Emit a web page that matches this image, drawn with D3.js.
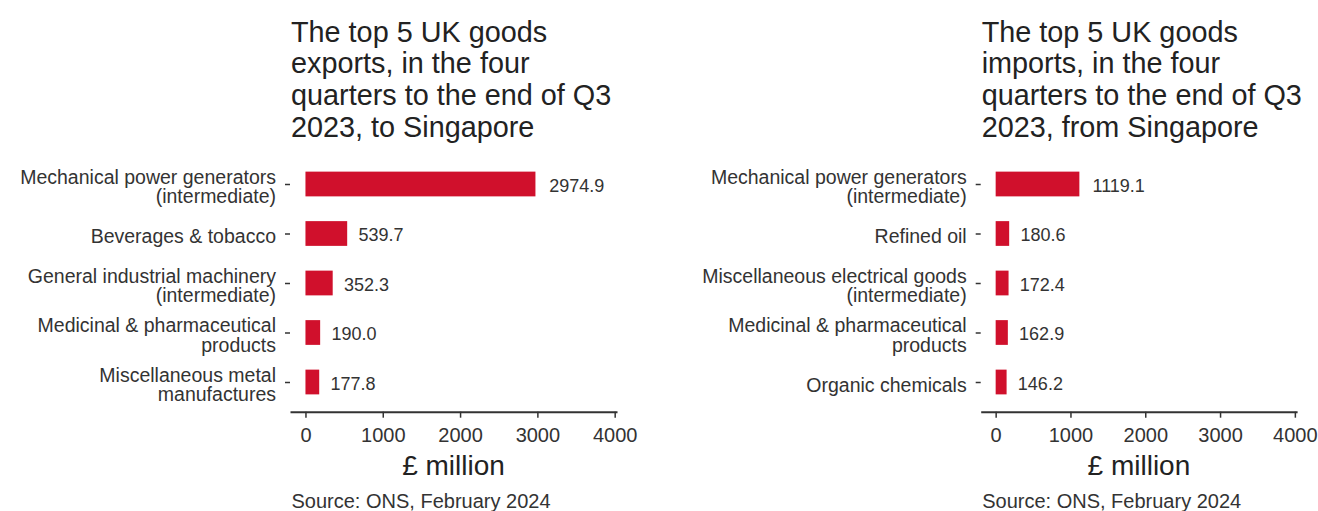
<!DOCTYPE html>
<html>
<head>
<meta charset="utf-8">
<script src="https://cdn.jsdelivr.net/npm/d3@7"></script>
<style>
  body { margin: 0; background: #ffffff; }
  svg { display: block; }
  text { font-family: "Liberation Sans", Arial, Helvetica, sans-serif; }
</style>
</head>
<body>
<svg id="chart" width="1318" height="511"></svg>
<script>
// ---- Data ----
const exportCategories = [
  "Mechanical power generators\n(intermediate)",
  "Beverages & tobacco",
  "General industrial machinery\n(intermediate)",
  "Medicinal & pharmaceutical\nproducts",
  "Miscellaneous metal\nmanufactures"
];
const exportValues = [2974.9, 539.7, 352.3, 190.0, 177.8];

const importCategories = [
  "Mechanical power generators\n(intermediate)",
  "Refined oil",
  "Miscellaneous electrical goods\n(intermediate)",
  "Medicinal & pharmaceutical\nproducts",
  "Organic chemicals"
];
const importValues = [1119.1, 180.6, 172.4, 162.9, 146.2];

const xTickValues = [0, 1000, 2000, 3000, 4000];

const exportTitle = ["The top 5 UK goods", "exports, in the four", "quarters to the end of Q3", "2023, to Singapore"];
const importTitle = ["The top 5 UK goods", "imports, in the four", "quarters to the end of Q3", "2023, from Singapore"];

const axisTitle = "£ million";
const sourceNote = "Source: ONS, February 2024";

// ---- Layout ----
const xDomain = [-200, 4030];
const panelTop = 154.3, panelBottom = 411.7;
const barColor = "#d0102c";
const textColor = "#333333";

const panels = [
  { title: exportTitle, cats: exportCategories, vals: exportValues, left: 290, right: 617 },
  { title: importTitle, cats: importCategories, vals: importValues, left: 980.7, right: 1297.1 }
];

const svg = d3.select("#chart");

panels.forEach(p => {
  const g = svg.append("g");

  const x = d3.scaleLinear().domain(xDomain).range([p.left, p.right]);
  const y = d3.scalePoint().domain(p.cats).range([panelTop, panelBottom]).padding(0.6);
  const barH = y.step() * 0.5;

  // Title block
  g.append("text")
    .attr("fill", "#222")
    .style("font-size", "28.8px")
    .selectAll("tspan")
    .data(p.title)
    .join("tspan")
      .attr("x", p.left + 1)
      .attr("y", (d, i) => 41.7 + i * 31.7)
      .text(d => d);

  // Bars
  g.selectAll("rect.bar")
    .data(p.cats.map((c, i) => ({ c, v: p.vals[i] })))
    .join("rect")
      .attr("class", "bar")
      .attr("x", x(0))
      .attr("y", d => y(d.c) - barH / 2)
      .attr("width", d => x(d.v) - x(0))
      .attr("height", barH)
      .attr("fill", barColor);

  // Value labels, nudged right by a quarter of their own width
  g.selectAll("text.value")
    .data(p.cats.map((c, i) => ({ c, v: p.vals[i] })))
    .join("text")
      .attr("class", "value")
      .attr("fill", textColor)
      .style("font-size", "18px")
      .attr("y", d => y(d.c) + 7.5)
      .text(d => d.v.toFixed(1))
      .attr("x", function (d) { return x(d.v) + 0.25 * this.getComputedTextLength(); });

  // X axis
  const xAxis = g.append("g")
    .attr("transform", `translate(0,${panelBottom})`)
    .call(d3.axisBottom(x).tickValues(xTickValues).tickSize(6).tickSizeOuter(0).tickPadding(9.8).tickFormat(d3.format("d")));
  xAxis.select(".domain").attr("stroke", "#333").attr("stroke-width", 2);
  xAxis.selectAll(".tick line").attr("stroke", "#333").attr("stroke-width", 1.5);
  xAxis.selectAll(".tick text").attr("fill", textColor).style("font-size", "20px").attr("font-family", null);

  // Y axis with wrapped category labels
  const yAxis = g.append("g")
    .attr("transform", `translate(${p.left},0)`)
    .call(d3.axisLeft(y).tickSize(5).tickPadding(9));
  yAxis.select(".domain").remove();
  yAxis.selectAll(".tick line").attr("stroke", "#333").attr("stroke-width", 1.5);
  yAxis.selectAll(".tick text")
    .attr("fill", textColor)
    .attr("font-family", null)
    .style("font-size", "19.5px")
    .attr("dy", null)
    .each(function (d) {
      const lines = d.split("\n");
      const t = d3.select(this).text(null);
      const lh = 19.5;
      lines.forEach((ln, i) => {
        t.append("tspan")
          .attr("x", -14)
          .attr("y", (i - (lines.length - 1) / 2) * lh + 9)
          .text(ln);
      });
    });

  // Axis title
  g.append("text")
    .attr("x", (p.left + p.right) / 2)
    .attr("y", 475)
    .attr("text-anchor", "middle")
    .attr("fill", "#222")
    .style("font-size", "28px")
    .text(axisTitle);

  // Source note
  g.append("text")
    .attr("x", p.left + 1.5)
    .attr("y", 508)
    .attr("fill", textColor)
    .style("font-size", "20px")
    .text(sourceNote);
});
</script>
</body>
</html>
